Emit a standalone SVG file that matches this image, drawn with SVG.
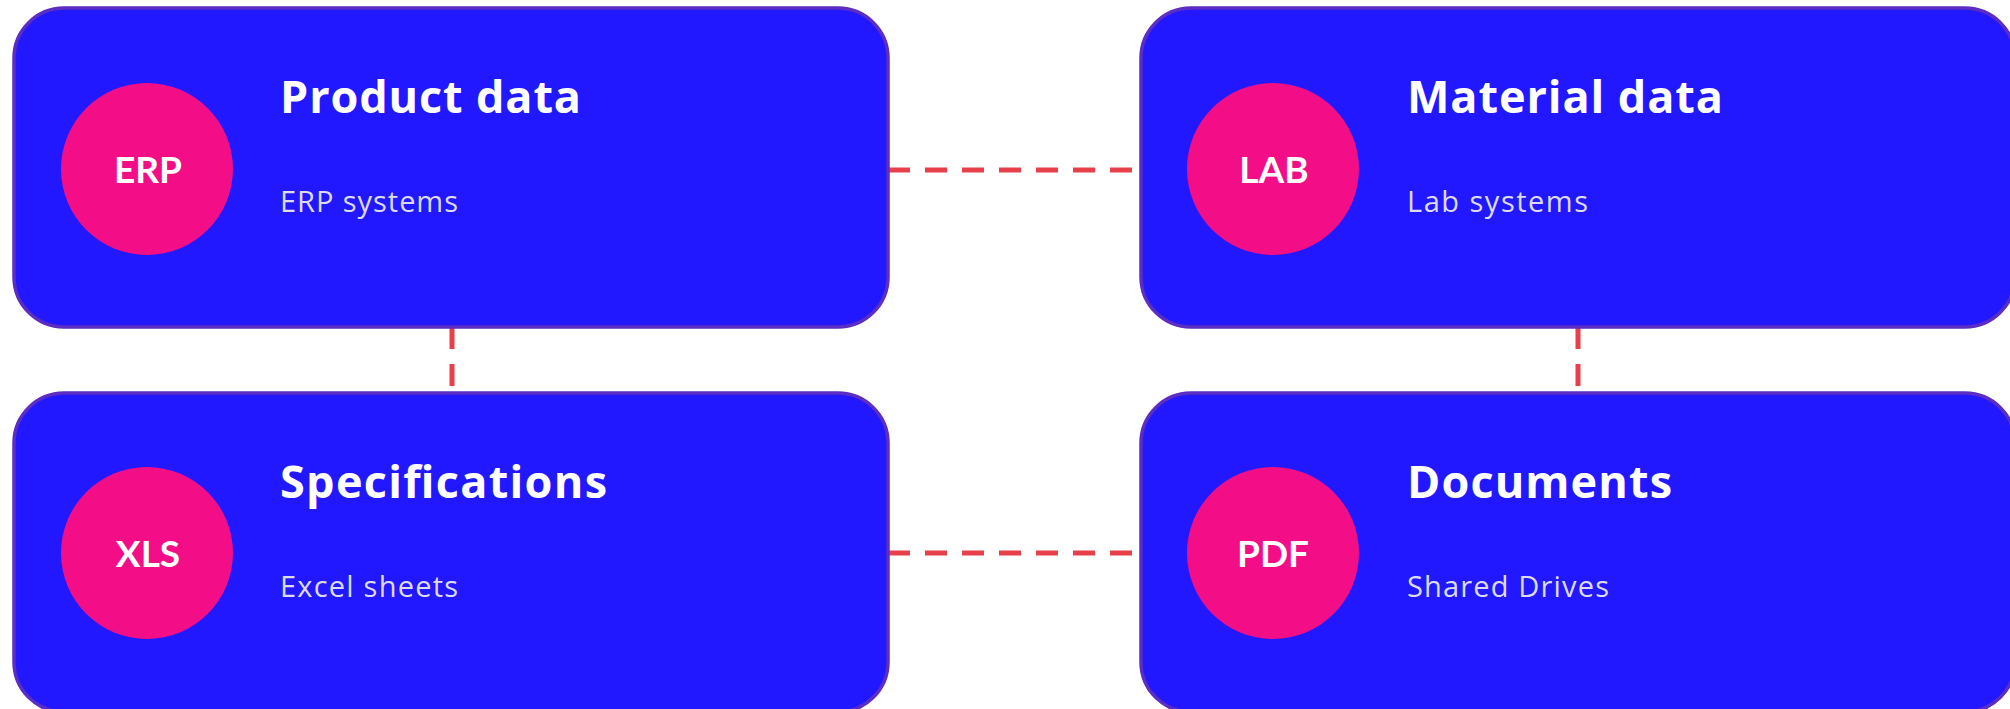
<svg xmlns="http://www.w3.org/2000/svg" width="2010" height="709" viewBox="0 0 2010 709">
  <style>
    .card { fill: #2218ff; stroke: #5b2dc2; stroke-width: 3.5; }
    .badge { fill: #f30e88; }
    .badge-label { font-family: Lato, "Liberation Sans", sans-serif; font-weight: 700; font-size: 37px; fill: #ffffff; text-anchor: middle; }
    .title { font-family: "Open Sans", "Liberation Sans", sans-serif; font-weight: 700; font-size: 45px; fill: #ffffff; }
    .subtitle { font-family: "Open Sans", "Liberation Sans", sans-serif; font-weight: 400; font-size: 29px; fill: #dcdcec; }
    .link { stroke: #e8404b; stroke-width: 5; stroke-dasharray: 22 15; fill: none; }
  </style>

  <!-- connectors between the data sources -->
  <g id="connectors">
    <line class="link" x1="888" y1="170" x2="1141" y2="170"/>
    <line class="link" x1="888" y1="553" x2="1141" y2="553"/>
    <line class="link" x1="452" y1="327" x2="452" y2="393"/>
    <line class="link" x1="1578" y1="327" x2="1578" y2="393"/>
  </g>

  <g id="product-data">
    <rect class="card" x="14" y="8" width="874" height="319" rx="50" ry="50"/>
    <circle class="badge" cx="147" cy="169" r="86"/>
    <text class="badge-label" x="148" y="183">ERP</text>
    <text class="title" x="280" y="113" textLength="301" lengthAdjust="spacing">Product data</text>
    <text class="subtitle" x="280" y="212" textLength="178" lengthAdjust="spacing">ERP systems</text>
  </g>

  <g id="material-data">
    <rect class="card" x="1141" y="8" width="874" height="319" rx="50" ry="50"/>
    <circle class="badge" cx="1273" cy="169" r="86"/>
    <text class="badge-label" x="1274" y="183">LAB</text>
    <text class="title" x="1407" y="113" textLength="316" lengthAdjust="spacing">Material data</text>
    <text class="subtitle" x="1407" y="212" textLength="181" lengthAdjust="spacing">Lab systems</text>
  </g>

  <g id="specifications">
    <rect class="card" x="14" y="393" width="874" height="319" rx="50" ry="50"/>
    <circle class="badge" cx="147" cy="553" r="86"/>
    <text class="badge-label" x="148" y="567">XLS</text>
    <text class="title" x="280" y="498" textLength="327" lengthAdjust="spacing">Specifications</text>
    <text class="subtitle" x="280" y="597" textLength="178" lengthAdjust="spacing">Excel sheets</text>
  </g>

  <g id="documents">
    <rect class="card" x="1141" y="393" width="874" height="319" rx="50" ry="50"/>
    <circle class="badge" cx="1273" cy="553" r="86"/>
    <text class="badge-label" x="1273" y="567">PDF</text>
    <text class="title" x="1407" y="498" textLength="265" lengthAdjust="spacing">Documents</text>
    <text class="subtitle" x="1407" y="597" textLength="202" lengthAdjust="spacing">Shared Drives</text>
  </g>
</svg>
